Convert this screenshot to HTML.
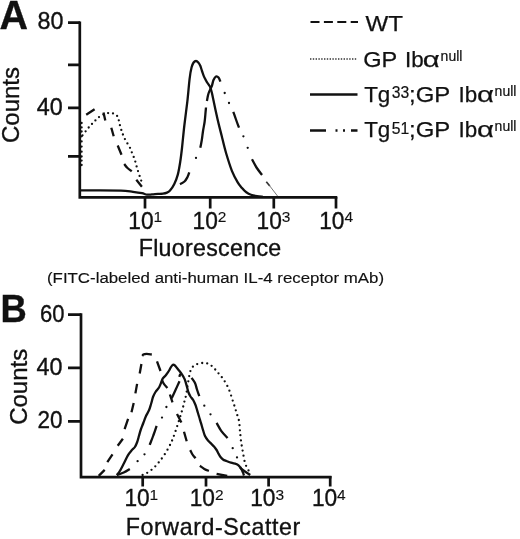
<!DOCTYPE html>
<html>
<head>
<meta charset="utf-8">
<title>Figure</title>
<style>
html,body{margin:0;padding:0;background:#fff;}
svg{display:block;}
text{font-family:"Liberation Sans",Arial,Helvetica,sans-serif;fill:#111;stroke:#111;stroke-width:0.35px;}
.ax{stroke:#111;stroke-width:2.7;fill:none;stroke-linecap:butt;}
.cv{stroke:#111;stroke-width:2.3;fill:none;stroke-linejoin:round;stroke-linecap:butt;}
.dt{stroke:#111;stroke-width:2.3;fill:none;stroke-linecap:round;}
.lg{font-size:22.4px;stroke-width:0.25px;}
.sp{font-size:14px;stroke-width:0.2px;}
</style>
</head>
<body>
<svg width="520" height="539" viewBox="0 0 520 539">
<rect x="0" y="0" width="520" height="539" fill="#fff"/>

<!-- ================= Panel A ================= -->
<text x="-0.5" y="29.3" font-size="40" font-weight="bold" textLength="28.5" lengthAdjust="spacingAndGlyphs">A</text>
<text x="37.5" y="29.2" font-size="24" textLength="26" lengthAdjust="spacingAndGlyphs">80</text>
<text x="36.7" y="115.3" font-size="24" textLength="26" lengthAdjust="spacingAndGlyphs">40</text>
<text transform="translate(18.7,143) rotate(-90)" font-size="24" textLength="76" lengthAdjust="spacingAndGlyphs">Counts</text>
<path class="ax" d="M79.8 21.4 V198.6 M78.5 197.4 H337.3"/>
<path class="ax" d="M68 22.7 H80 M68 64.9 H80 M68 107.9 H80 M68 156.3 H80"/>
<path class="ax" d="M145 197 V208.6 M210.2 197 V208.6 M273.8 197 V208.6 M336 197 V208.6"/>
<text x="128.3" y="228.7" font-size="24.5" textLength="25.3" lengthAdjust="spacingAndGlyphs">10</text><text x="153.5" y="222.0" font-size="15.5" style="stroke-width:0.1px">1</text>
<text x="192.6" y="228.7" font-size="24.5" textLength="25.3" lengthAdjust="spacingAndGlyphs">10</text><text x="217.79999999999998" y="222.0" font-size="15.5" style="stroke-width:0.1px">2</text>
<text x="256.6" y="228.7" font-size="24.5" textLength="25.3" lengthAdjust="spacingAndGlyphs">10</text><text x="281.8" y="222.0" font-size="15.5" style="stroke-width:0.1px">3</text>
<text x="319.2" y="228.7" font-size="24.5" textLength="25.3" lengthAdjust="spacingAndGlyphs">10</text><text x="344.4" y="222.0" font-size="15.5" style="stroke-width:0.1px">4</text>
<text x="138.7" y="256.4" font-size="23.2" textLength="142.5" lengthAdjust="spacing">Fluorescence</text>
<text x="47" y="283.3" font-size="15.3" style="stroke-width:0.15px" textLength="337" lengthAdjust="spacingAndGlyphs">(FITC-labeled anti-human IL-4 receptor mAb)</text>
<path class="cv" d="M81.0 190.4 C84.2 190.4,93.3 190.4,100.0 190.4 C106.7 190.4,115.5 190.4,121.0 190.6 C126.5 190.8,129.5 191.4,133.0 191.8 C136.5 192.2,139.7 192.7,142.0 193.2 C144.3 193.7,145.3 194.4,147.0 194.6 C148.7 194.8,150.2 194.5,152.0 194.4 C153.8 194.3,156.2 194.0,158.0 193.9 C159.8 193.8,161.5 193.8,163.0 193.6 C164.5 193.4,165.8 193.1,167.0 192.6 C168.2 192.1,168.8 192.0,170.0 190.6 C171.2 189.2,173.0 186.7,174.3 184.0 C175.6 181.3,176.8 178.3,177.8 174.6 C178.8 170.9,179.5 166.4,180.2 162.0 C180.9 157.6,181.3 154.2,182.0 148.0 C182.7 141.8,183.5 132.7,184.4 125.0 C185.3 117.3,186.4 109.5,187.3 101.8 C188.2 94.1,188.9 84.5,189.6 78.8 C190.3 73.0,190.9 70.0,191.6 67.3 C192.3 64.6,192.9 63.5,193.6 62.5 C194.3 61.5,195.2 61.0,196.0 61.0 C196.8 61.0,197.6 61.7,198.3 62.5 C199.0 63.3,199.7 64.4,200.3 65.8 C200.9 67.2,201.4 69.3,202.0 71.0 C202.6 72.7,203.1 74.4,203.7 75.9 C204.3 77.4,205.0 78.6,205.6 79.8 C206.2 81.0,206.7 81.7,207.5 83.0 C208.3 84.3,209.6 85.8,210.3 87.4 C211.0 89.0,211.3 90.6,211.8 92.5 C212.3 94.4,212.2 94.5,213.2 98.9 C214.1 103.3,216.1 112.8,217.5 119.0 C218.9 125.2,220.4 130.6,221.8 136.3 C223.2 142.1,224.5 147.8,226.2 153.5 C227.9 159.2,230.0 166.0,231.9 170.8 C233.8 175.6,236.0 179.4,237.7 182.3 C239.4 185.2,240.6 186.3,242.0 188.0 C243.4 189.7,244.8 191.1,246.3 192.2 C247.8 193.3,249.2 194.1,251.0 194.8 C252.8 195.5,255.0 195.9,257.0 196.2 C259.0 196.5,262.0 196.7,263.0 196.8"/>
<path class="cv" d="M86.2 114.8 L94.6 109.3 M103.5 112.5 L105.3 120.5 M111.3 127.8 L113.7 136.2 M117.7 145.5 L121.5 154.7 M124.2 164.0 C124.8 164.7,126.2 166.8,127.5 168.0 C128.8 169.2,131.0 170.8,131.7 171.4 M136.3 179.8 L141.9 186.8"/>
<path class="dt" d="M82.5 135.3 h0.01 M85.6 131.3 h0.01 M88.7 127.5 h0.01 M92.0 123.9 h0.01 M95.4 120.4 h0.01 M99.0 117.1 h0.01 M103.4 114.6 h0.01 M108.1 113.1 h0.01 M113.0 113.4 h0.01 M117.1 115.9 h0.01 M118.8 120.3 h0.01 M119.9 125.2 h0.01 M121.3 129.9 h0.01 M122.9 134.5 h0.01 M124.9 139.1 h0.01 M127.4 143.4 h0.01 M130.0 147.8 h0.01 M131.8 152.3 h0.01 M133.7 156.9 h0.01 M135.3 161.6 h0.01 M136.6 166.4 h0.01 M138.0 171.1 h0.01 M139.6 175.9 h0.01 M141.2 180.6 h0.01"/>
<path class="dt" stroke-width="1.8" d="M81.6 123.0 h0.01 M81.6 127.4 h0.01 M81.6 131.5 h0.01 M81.6 136.3 h0.01 M81.6 141.4 h0.01 M81.6 146.6 h0.01 M81.6 151.7 h0.01 M81.6 156.5 h0.01 M81.6 160.6 h0.01 M81.6 165.0 h0.01"/>
<path class="cv" d="M180.0 184.2 C180.8 183.8,183.2 182.7,184.5 181.5 C185.8 180.3,186.7 178.5,187.5 177.0 C188.3 175.5,189.0 173.1,189.3 172.3 M200.3 147.8 C200.6 146.5,201.3 142.9,201.8 140.0 C202.3 137.1,202.6 133.5,203.1 130.5 C203.6 127.5,204.2 124.8,204.6 122.0 C205.0 119.2,205.2 116.4,205.4 114.0 C205.6 111.6,205.9 108.6,206.0 107.5 M206.9 101.0 C207.2 99.8,207.7 96.0,208.5 93.5 C209.3 91.0,211.0 88.2,211.8 86.0 C212.6 83.8,212.8 81.6,213.5 80.0 C214.2 78.4,215.2 76.9,216.0 76.5 C216.8 76.1,217.8 76.7,218.5 77.5 C219.2 78.3,220.1 80.9,220.4 81.6 M233.3 111.8 C233.8 113.1,235.1 116.8,236.0 119.5 C236.9 122.2,238.5 126.3,239.0 127.7 M252.0 159.3 C252.8 160.7,254.8 164.9,256.5 167.5 C258.2 170.1,261.1 173.8,262.0 175.0"/>
<path class="dt" d="M196.0 157.9 h0.01 M224.7 93.0 h0.01 M229.0 103.0 h0.01 M243.4 136.3 h0.01 M247.7 147.8 h0.01"/>
<path d="M266.3 181.8 L269.8 186" stroke="#333" stroke-width="1.7" fill="none"/><path d="M269.5 185.6 L277.5 196" stroke="#777" stroke-width="1" fill="none"/>

<!-- ================= Legend ================= -->
<path class="ax" style="stroke-width:2px" d="M310.5 22 H358" stroke-dasharray="9 4.4"/>
<text class="lg" x="365.5" y="31.3" textLength="37.5" lengthAdjust="spacingAndGlyphs">WT</text>
<path d="M310 59 H357.5" stroke="#333" stroke-width="1.4" stroke-dasharray="1.4 1.4" fill="none"/>
<text class="lg" x="363.3" y="66.6" textLength="34" lengthAdjust="spacingAndGlyphs">GP</text><text class="lg" x="405" y="66.6">Ib</text><text class="lg" x="422.8" y="66.6" textLength="17" lengthAdjust="spacingAndGlyphs">&#945;</text><text class="sp" x="440.6" y="61.3">null</text>
<path class="ax" style="stroke-width:2.3px" d="M310 94.5 H357.5"/>
<text class="lg" x="364.2" y="102">Tg</text><text class="sp" x="391.8" y="98.3" style="font-size:15.7px">33</text><text class="lg" x="409" y="102" textLength="41.2" lengthAdjust="spacingAndGlyphs">;GP</text><text class="lg" x="458.6" y="102">Ib</text><text class="lg" x="477" y="102" textLength="17" lengthAdjust="spacingAndGlyphs">&#945;</text><text class="sp" x="494.6" y="96.3">null</text>
<path class="ax" style="stroke-width:2.3px" d="M310 130.5 H326 M335.5 130.5 H337.5 M343 130.5 H345 M351 130.5 H357.5"/>
<text class="lg" x="364.2" y="137.2">Tg</text><text class="sp" x="391.8" y="133.5" style="font-size:15.7px">51</text><text class="lg" x="409" y="137.2" textLength="41.2" lengthAdjust="spacingAndGlyphs">;GP</text><text class="lg" x="458.6" y="137.2">Ib</text><text class="lg" x="477" y="137.2" textLength="17" lengthAdjust="spacingAndGlyphs">&#945;</text><text class="sp" x="494.6" y="130.8">null</text>

<!-- ================= Panel B ================= -->
<text x="0.5" y="321.8" font-size="39.5" font-weight="bold" textLength="26.3" lengthAdjust="spacingAndGlyphs">B</text>
<text x="40" y="322.3" font-size="24" textLength="24.5" lengthAdjust="spacingAndGlyphs">60</text>
<text x="36.5" y="374.5" font-size="24" textLength="26" lengthAdjust="spacingAndGlyphs">40</text>
<text x="37.5" y="428" font-size="24" textLength="25" lengthAdjust="spacingAndGlyphs">20</text>
<text transform="translate(27.3,424.8) rotate(-90)" font-size="24" textLength="76" lengthAdjust="spacingAndGlyphs">Counts</text>
<path class="ax" d="M81 313.3 V478.4 M79.7 477.1 H331.5"/>
<path class="ax" d="M68 314.7 H81 M68 367.8 H81 M68 421.3 H81"/>
<path class="ax" d="M142.7 476 V486.6 M206 476 V486.6 M268.6 476 V486.6 M330.2 476 V486.6"/>
<text x="124.4" y="506.3" font-size="24.5" textLength="25.3" lengthAdjust="spacingAndGlyphs">10</text><text x="149.6" y="499.6" font-size="15.5" style="stroke-width:0.1px">1</text>
<text x="189.7" y="506.3" font-size="24.5" textLength="25.3" lengthAdjust="spacingAndGlyphs">10</text><text x="214.89999999999998" y="499.6" font-size="15.5" style="stroke-width:0.1px">2</text>
<text x="250.2" y="506.3" font-size="24.5" textLength="25.3" lengthAdjust="spacingAndGlyphs">10</text><text x="275.4" y="499.6" font-size="15.5" style="stroke-width:0.1px">3</text>
<text x="311.9" y="506.3" font-size="24.5" textLength="25.3" lengthAdjust="spacingAndGlyphs">10</text><text x="337.09999999999997" y="499.6" font-size="15.5" style="stroke-width:0.1px">4</text>
<text x="125.8" y="535" font-size="23.2" textLength="174.5" lengthAdjust="spacing">Forward-Scatter</text>
<path class="cv" d="M116.8 475.0 C117.2 474.4,118.3 473.4,119.5 471.5 C120.7 469.6,122.3 466.4,123.7 463.7 C125.1 461.0,126.6 457.5,127.9 455.3 C129.2 453.1,130.3 451.9,131.5 450.5 C132.7 449.1,134.0 448.4,134.9 447.0 C135.8 445.6,136.5 443.9,137.2 442.0 C137.9 440.1,138.4 438.0,139.0 435.8 C139.6 433.6,140.2 431.2,141.0 429.0 C141.8 426.8,142.7 424.7,143.5 422.5 C144.3 420.3,145.1 418.0,146.0 416.0 C146.9 414.0,148.1 412.4,149.0 410.3 C149.9 408.2,150.5 405.7,151.2 403.5 C151.9 401.3,152.3 398.9,153.0 397.0 C153.7 395.1,154.5 393.6,155.5 392.0 C156.5 390.4,158.1 389.0,159.0 387.5 C159.9 386.0,160.4 384.5,161.0 383.0 C161.6 381.5,161.9 380.0,162.7 378.7 C163.5 377.4,165.0 376.3,166.0 375.0 C167.0 373.7,168.0 372.3,168.8 371.0 C169.6 369.7,170.3 368.1,171.0 367.0 C171.7 365.9,172.5 364.9,173.2 364.7 C173.9 364.4,174.5 365.1,175.0 365.5 C175.5 365.9,175.7 366.5,176.4 367.3 C177.1 368.1,178.1 369.4,179.0 370.5 C179.9 371.6,180.8 372.6,181.6 373.8 C182.4 375.0,183.2 376.2,183.8 377.5 C184.5 378.8,185.0 380.0,185.5 381.6 C186.0 383.2,186.5 385.2,187.0 387.0 C187.5 388.8,187.9 390.9,188.5 392.5 C189.1 394.1,189.7 395.2,190.5 396.5 C191.3 397.8,192.4 398.6,193.2 400.0 C194.0 401.4,194.8 403.3,195.5 405.0 C196.2 406.7,196.5 408.2,197.1 410.1 C197.7 412.0,198.3 414.3,199.0 416.5 C199.7 418.7,200.3 420.9,201.0 423.1 C201.7 425.4,202.3 427.8,203.0 430.0 C203.7 432.2,204.2 434.4,205.0 436.1 C205.8 437.9,206.9 439.2,208.0 440.5 C209.1 441.8,210.4 442.9,211.4 443.9 C212.4 444.9,213.1 445.5,214.0 446.5 C214.9 447.5,215.8 448.8,216.6 450.0 C217.4 451.2,217.9 452.6,218.6 453.8 C219.2 455.0,219.8 456.1,220.5 457.0 C221.2 457.9,222.0 458.8,223.0 459.5 C224.0 460.2,225.2 460.5,226.5 461.0 C227.8 461.5,229.4 462.2,231.0 462.7 C232.6 463.2,234.7 463.5,235.9 463.9 C237.2 464.3,237.8 464.7,238.5 465.3 C239.2 465.9,239.8 466.5,240.3 467.3 C240.9 468.1,241.3 469.1,241.8 470.0 C242.3 470.9,242.7 472.0,243.1 472.9 C243.5 473.8,243.8 475.1,244.0 475.5"/>
<path class="cv" d="M240.0 467.8 C240.8 468.4,243.3 470.3,245.0 471.5 C246.7 472.7,249.3 474.4,250.2 475.0"/>
<path class="cv" d="M98.7 475.9 L104.7 469.9 M107.3 462.1 L112.5 454.3 M117.7 445.7 L122.9 438.7 M124.6 429.2 L128.1 418.8 M131.5 412.2 L133.7 403.0 M135.4 393.4 L137.1 383.9 M139.7 373.5 L141.4 364.0 M142.3 356.0 C142.5 355.8,142.6 354.9,143.3 354.5 C144.0 354.1,145.2 353.9,146.6 353.9 C148.0 353.9,150.9 354.4,151.8 354.5 M157.0 361.4 L160.5 371.0 M162.2 380.5 C162.5 381.1,163.0 382.7,163.9 383.9 C164.8 385.1,166.8 387.2,167.4 387.9 M169.9 394.5 L172.5 402.3 M177.0 414.0 L181.4 422.5 M184.0 431.7 L186.7 441.3 M190.2 450.1 C190.6 450.8,191.6 453.1,192.5 454.5 C193.4 455.9,195.0 457.6,195.5 458.2 M199.9 465.8 C200.6 466.3,202.8 468.0,204.3 468.9 C205.8 469.8,208.1 470.6,208.9 470.9 M216.6 473.9 L227.2 476.0"/>
<path class="cv" d="M116.8 475.0 C118.0 474.6,121.5 473.5,123.7 472.5 C125.9 471.5,128.8 469.6,129.8 469.0 M149.7 444.8 C150.3 443.2,152.2 438.7,153.3 435.5 C154.5 432.3,156.1 427.4,156.6 425.8 M171.7 398.2 C172.3 396.8,174.2 392.8,175.5 390.0 C176.8 387.2,178.8 382.8,179.5 381.3 M179.3 376.8 L180.3 373.8 M191.6 377.9 C192.2 378.8,194.1 381.1,195.0 383.0 C195.9 384.9,196.3 387.3,197.0 389.5 C197.7 391.7,198.9 395.1,199.3 396.2 M216.6 422.9 C217.4 424.2,219.4 428.3,221.2 430.8 C223.0 433.3,226.5 436.8,227.6 438.0"/>
<path class="dt" d="M137.6 461.2 h0.01 M144.5 454.3 h0.01 M162.0 417.6 h0.01 M166.4 407.0 h0.01 M204.3 405.7 h0.01 M210.5 414.3 h0.01 M232.7 448.2 h0.01 M237.0 457.4 h0.01"/>
<path class="dt" stroke-width="2" d="M142.6 475.0 h0.01 M147.2 472.8 h0.01 M151.5 469.8 h0.01 M155.3 466.3 h0.01 M158.7 462.4 h0.01 M161.8 458.5 h0.01 M164.8 454.2 h0.01 M167.5 449.7 h0.01 M170.0 445.0 h0.01 M172.1 440.5 h0.01 M173.9 435.8 h0.01 M175.6 430.9 h0.01 M177.2 426.1 h0.01 M178.8 421.2 h0.01 M180.3 416.2 h0.01 M181.8 411.4 h0.01 M183.2 406.5 h0.01 M184.4 401.6 h0.01 M185.7 396.8 h0.01 M186.7 391.6 h0.01 M187.4 386.4 h0.01 M188.3 381.3 h0.01 M189.2 376.1 h0.01 M190.4 371.1 h0.01 M192.9 366.7 h0.01 M197.2 364.1 h0.01 M202.2 363.0 h0.01 M207.2 363.4 h0.01 M211.6 365.8 h0.01 M215.2 369.5 h0.01 M218.5 373.3 h0.01 M221.8 377.2 h0.01 M224.7 381.3 h0.01 M227.3 385.9 h0.01 M229.4 390.7 h0.01 M231.1 395.6 h0.01 M232.7 400.6 h0.01 M234.3 405.5 h0.01 M235.8 410.3 h0.01 M237.3 415.2 h0.01 M238.8 420.0 h0.01 M239.5 425.2 h0.01 M239.9 430.3 h0.01 M240.4 435.2 h0.01 M240.9 440.4 h0.01 M241.7 445.5 h0.01 M242.6 450.6 h0.01 M243.5 455.7 h0.01 M244.5 460.9 h0.01 M246.1 465.8 h0.01 M248.5 470.4 h0.01"/>
</svg>
</body>
</html>
